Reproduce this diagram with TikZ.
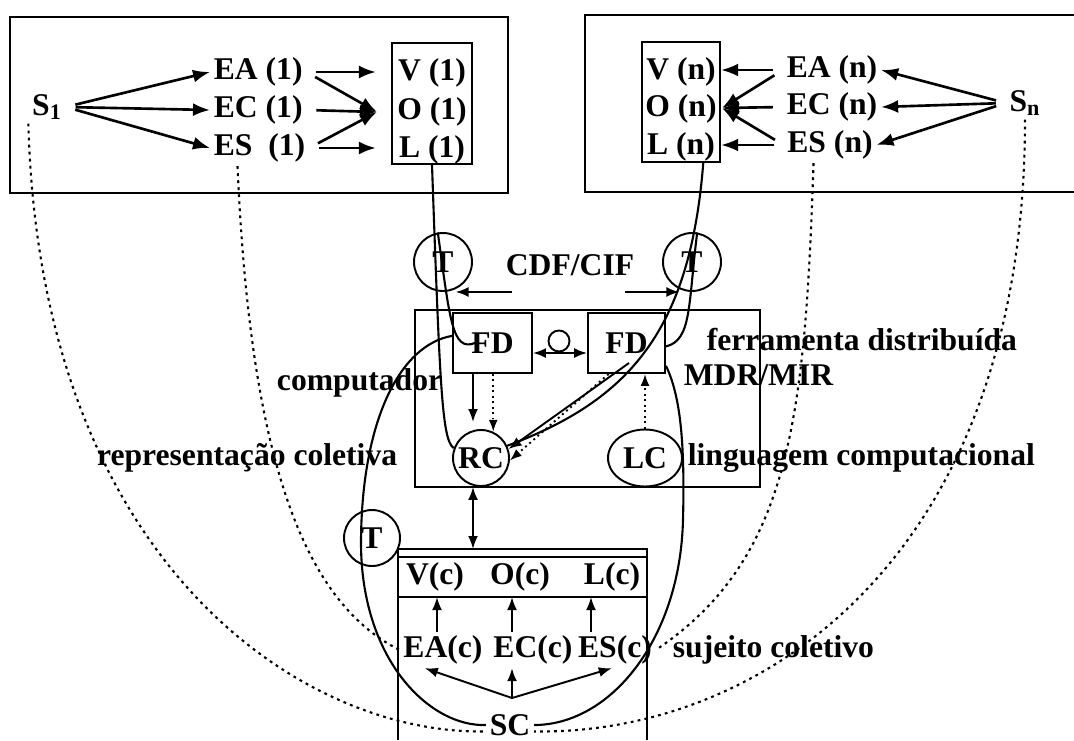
\documentclass[tikz,border=0pt]{standalone}
\usepackage{fontspec}
\setmainfont{Liberation Serif}
\usetikzlibrary{arrows.meta,shapes.geometric}

\begin{document}
\begin{tikzpicture}[x=0.02cm,y=-0.02cm,
    every node/.style={font=\fontsize{18}{21}\selectfont\bfseries,inner sep=2pt},
    boxline/.style={line width=1.3pt},
    arrbold/.style={-{Latex[length=3.4mm,width=2.6mm]},line width=1.5pt,shorten <=0.2cm},
    arrthin/.style={-{Latex[length=2.6mm,width=2mm]},line width=1.1pt},
    arrboth/.style={{Latex[length=2.6mm,width=2mm]}-{Latex[length=2.6mm,width=2mm]},line width=1.1pt},
    arrdot/.style={-{Latex[length=2.4mm,width=1.8mm]},line width=1.1pt,dotted},
    wire/.style={line width=1.2pt},
    trail/.style={line width=1.2pt,dash pattern=on 1.6pt off 2.4pt},
    ringnode/.style={circle,draw,line width=1.1pt,minimum size=1.16cm,inner sep=0pt},
    fdbox/.style={draw,line width=1.1pt,minimum height=1.2cm}]
\useasboundingbox (0,0) rectangle (1074,740);

% sujeito 1
\draw[boxline] (10,17) rectangle (508,193);
\node (s1) at (47,107) {S\textsubscript{1}};
\node (ea1) [anchor=west] at (210,72) {EA (1)};
\node (ec1) [anchor=west] at (210,110) {EC (1)};
\node (es1) [anchor=west] at (210,148) {ES\ \ (1)};
\node (vol1) [draw,line width=1.3pt,minimum width=1.6cm,minimum height=2.42cm] at (432,103.5) {};
\node (v1) at (432,73) {V (1)};
\node (o1) at (432,112) {O (1)};
\node (l1) at (432,150) {L (1)};
\coordinate (o1in) at (377,112);
\draw[arrbold] (s1.east) -- (ea1.west);
\draw[arrbold] (s1.east) -- (ec1.west);
\draw[arrbold] (s1.east) -- (es1.west);
\draw[arrbold,shorten >=0.3cm] (ea1.east) -- (ea1.east -| vol1.west);
\draw[arrbold] (ea1.east) -- (o1in);
\draw[arrbold] (ec1.east) -- (o1in);
\draw[arrbold] (es1.east) -- (o1in);
\draw[arrbold,shorten >=0.3cm] (es1.east) -- (es1.east -| vol1.west);

% sujeito n
\draw[boxline] (1074,15) -- (585,15) -- (585,192) -- (1074,192);
\node (voln) [draw,line width=1.3pt,minimum width=1.56cm,minimum height=2.4cm] at (681,102) {};
\node (vn) at (681,72) {V (n)};
\node (on) at (681,109) {O (n)};
\node (ln) at (681,147) {L (n)};
\node (ean) at (832,70) {EA (n)};
\node (ecn) at (832,107) {EC (n)};
\node (esn) at (830,145) {ES (n)};
\node (sn) at (1025,103) {S\textsubscript{n}};
\coordinate (onin) at (722,108);
\draw[arrbold] (sn.west) -- (ean.east);
\draw[arrbold] (sn.west) -- (ecn.east);
\draw[arrbold] (sn.west) -- (esn.east);
\draw[arrbold] (ean.west) -- (ean.west -| voln.east);
\draw[arrbold] (ean.west) -- (onin);
\draw[arrbold] (ecn.west) -- (onin);
\draw[arrbold] (esn.west) -- (onin);
\draw[arrbold] (esn.west) -- (esn.west -| voln.east);

% CDF/CIF
\node (tl) [ringnode] at (443,262) {T};
\node (tr) [ringnode] at (692,262) {T};
\node (cdf) at (570,265) {CDF/CIF};
\coordinate (cdfl) at (512,292);
\coordinate (cdfr) at (625,292);
\draw[arrthin] (cdfl) -- (cdfl -| tl.-65);
\draw[arrthin] (cdfr) -- (cdfr -| tr.-115);

% computador
\draw[boxline] (415,310) rectangle (760,487);
\node (fd1) [fdbox,minimum width=1.58cm] at (492.5,343) {FD};
\node (fd2) [fdbox,minimum width=1.54cm] at (626.5,343) {FD};
\node (link) [circle,draw,line width=1.1pt,minimum size=0.42cm,inner sep=0pt] at (559,341) {};
\draw[arrboth] ([yshift=-0.2cm]fd1.east) -- ([yshift=-0.2cm]fd2.west);
\node (rc) [ringnode,minimum size=1.12cm] at (481,458) {RC};
\node (lc) [ellipse,draw,line width=1.1pt,minimum width=1.48cm,minimum height=1.14cm,inner sep=0pt] at (645,458) {LC};
\coordinate (rcin) at (473,422);
\draw[arrthin] (fd1.south -| rcin) -- (rcin);
\draw[arrdot] (fd1.south -| rc.65) -- (rc.65);
\draw[arrdot] (lc.north) -- (lc.north |- fd2.south);
\draw[arrthin] ([xshift=0.05cm,yshift=-0.4cm]fd2.center) -- (rc.18);
\draw[arrdot] (fd2.-120) -- (rc.-5);

% ligacoes
\draw[wire] (vol1.south) .. controls (440,390) and (442,440) .. (rc.160);
\draw[wire] (voln.-70) .. controls (690,330) and (630,400) .. (rc.25);
\draw[wire] (tl.100) .. controls (450,320) and (452,352) .. ([xshift=-0.35cm]fd1.center);
\draw[wire] (tr.80) .. controls (688,305) and (692,340) .. (fd2.-5);

\node (comp) [anchor=east] at (446,383) {computador};
\node (repr) [anchor=east] at (401,458) {representação coletiva};
\node (ling) [anchor=west] at (684,458) {linguagem computacional};
\node (ferr) [anchor=west] at (703,340) {ferramenta distribuída};
\node (mdr) [anchor=west] at (680,375) {MDR/MIR};

% sujeito coletivo
\draw[boxline] (398,740) -- (398,549) -- (647,549) -- (647,740);
\draw[boxline] (398,557) -- (647,557);
\draw[boxline] (398,597) -- (647,597);
\coordinate (sctop) at (473,549);
\draw[arrboth] (sctop |- rc.south) -- (sctop);
\node (vc) at (435,577) {V(c)};
\node (oc) at (520,577) {O(c)};
\node (lcc) at (612,577) {L(c)};
\node (eac) at (443,650) {EA(c)};
\node (ecc) at (533,650) {EC(c)};
\node (esc) at (615,650) {ES(c)};
\node (sc) at (510,725) {SC};
\node (suj) [anchor=west] at (669,650) {sujeito coletivo};
\node (tb) [ringnode,minimum size=1.12cm] at (372,538) {T};
\coordinate (vin) at (437,597);
\coordinate (oin) at (512,597);
\coordinate (lin) at (591,597);
\draw[arrthin] (vin |- eac.north) -- (vin);
\draw[arrthin] (oin |- ecc.north) -- (oin);
\draw[arrthin] (lin |- esc.north) -- (lin);
\coordinate (fork) at (512,698);
\draw[arrthin] (fork) -- (eac.-135);
\draw[arrthin] (fork) -- (fork |- ecc.south);
\draw[arrthin] (fork) -- (esc.-100);

% laco
\draw[wire] (fd1.170) .. controls (400,345) and (362,420) .. (361,540)
  .. controls (360,660) and (430,727) .. (sc.west);
\draw[wire] (sc.east) .. controls (610,725) and (680,640) .. (683,520)
  .. controls (685,440) and (680,395) .. (fd2.-30);

% rastros
\draw[trail] (s1.south west) .. controls (40,560) and (300,735) .. (sc.-165);
\draw[trail] ([xshift=0.55cm]es1.south west) .. controls (250,450) and (300,600) .. (eac.west);
\draw[trail] ([xshift=0.6cm]esn.south west) .. controls (805,420) and (790,560) .. (esc.east);
\draw[trail] (sn.south) .. controls (1025,560) and (760,735) .. (sc.-15);
\end{tikzpicture}
\end{document}
